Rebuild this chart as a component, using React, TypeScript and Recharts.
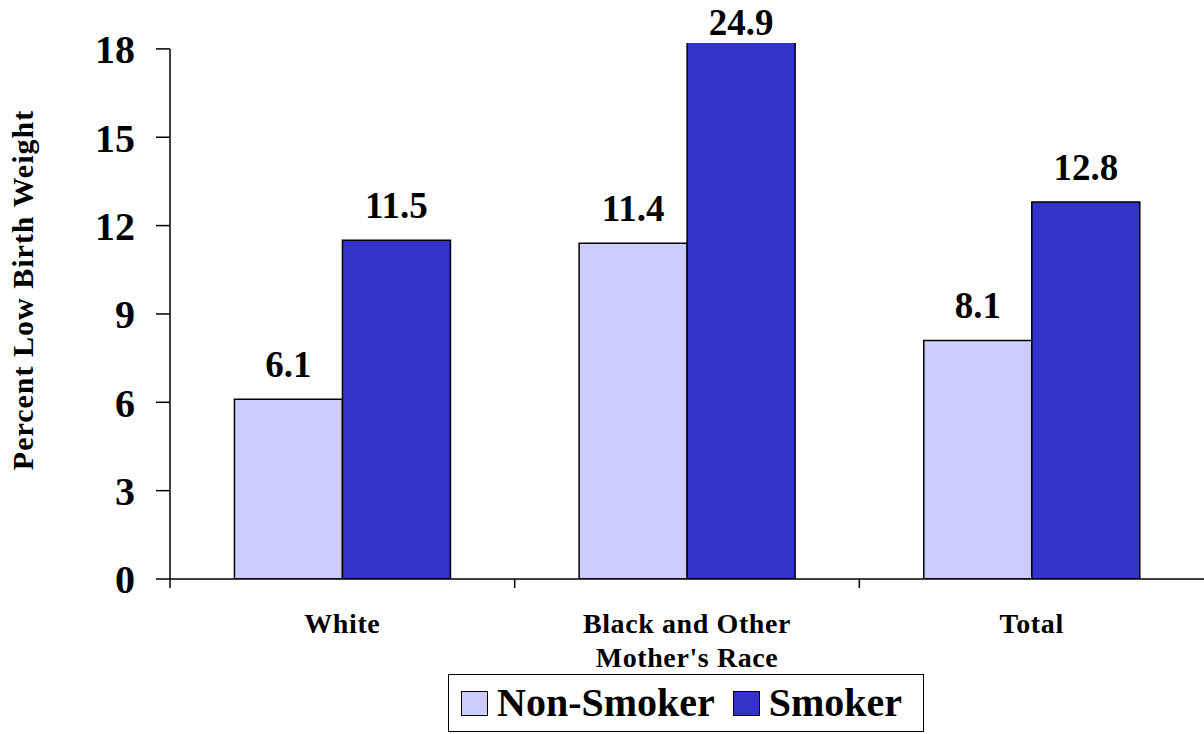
import React from "react";
import { BarChart, Bar, XAxis, YAxis, Legend, LabelList } from "recharts";

// values
const races = ["White", "Black and Other", "Total"];
const nonSmoker = [6.1, 11.4, 8.1];
const smoker = [11.5, 24.9, 12.8];
const yTicks = [0, 3, 6, 9, 12, 15, 18];

const data = races.map((race, i) => ({
  race,
  nonSmoker: nonSmoker[i],
  smoker: smoker[i],
}));

const W = 1204;
const H = 734;
const TOP = 43;
const Y_MAX = 18.2; // excel plot area runs a little past the last tick
const FONT = '"Liberation Serif", "Times New Roman", serif';

function ValueLabel(props: any) {
  const vb = props.viewBox ?? props;
  const { x, y, width } = vb;
  const clipped = y < TOP;
  const baseline = clipped ? TOP - 8 : y - 22;
  return (
    <text
      x={x + width / 2}
      y={baseline}
      textAnchor="middle"
      fontFamily={FONT}
      fontWeight="bold"
      fontSize={37}
      fill="#000"
    >
      {Number(props.value).toFixed(1)}
    </text>
  );
}

function PercentTick(props: any) {
  const { x, y, payload, height, index } = props;
  const axisX = x + 35;
  const pxPerUnit = (height ?? 536) / Y_MAX;
  const prev = index > 0 ? yTicks[index - 1] : payload.value;
  const seg = (payload.value - prev) * pxPerUnit;
  return (
    <g>
      <line x1={axisX - 14} y1={y} x2={axisX} y2={y} stroke="#000" strokeWidth={1.5} />
      {seg > 0 && <line x1={axisX} y1={y} x2={axisX} y2={y + seg} stroke="#000" strokeWidth={1.5} />}
      <text
        x={x}
        y={y}
        dy="0.36em"
        textAnchor="end"
        fontFamily={FONT}
        fontWeight="bold"
        fontSize={40}
        fill="#000"
      >
        {payload.value}
      </text>
    </g>
  );
}

function RaceTick(props: any) {
  const { x, y, payload } = props;
  const half = payload.offset ?? 172;
  return (
    <g>
      <line x1={x - half} y1={y} x2={x - half} y2={y + 9} stroke="#000" strokeWidth={1.5} />
      <text
        x={x}
        y={y + 54}
        textAnchor="middle"
        fontFamily={FONT}
        fontWeight="bold"
        fontSize={28}
        letterSpacing={0.6}
        fill="#000"
      >
        {payload.value}
      </text>
    </g>
  );
}

function YTitle() {
  return (
    <text
      transform="translate(33,290) rotate(-90)"
      textAnchor="middle"
      fontFamily={FONT}
      fontWeight="bold"
      fontSize={30}
      letterSpacing={1}
      fill="#000"
    >
      Percent Low Birth Weight
    </text>
  );
}

function XTitle() {
  return (
    <text
      x={687}
      y={667}
      textAnchor="middle"
      fontFamily={FONT}
      fontWeight="bold"
      fontSize={28}
      letterSpacing={0.6}
      fill="#000"
    >
      Mother's Race
    </text>
  );
}

function LegendBox({ payload }: { payload?: Array<{ value: string; color: string }> }) {
  if (!payload?.length) return null;
  return (
    <div
      style={{
        boxSizing: "border-box",
        width: 476,
        height: 58,
        border: "1.5px solid #000",
        display: "flex",
        alignItems: "center",
        paddingLeft: 12,
        fontFamily: FONT,
        fontWeight: "bold",
        fontSize: 40,
        color: "#000",
      }}
    >
      {payload.map((entry, i) => (
        <div key={i} style={{ display: "flex", alignItems: "center", marginRight: 18 }}>
          <span
            style={{
              boxSizing: "border-box",
              display: "inline-block",
              width: 27,
              height: 25,
              background: entry.color,
              border: "1.5px solid #000",
              marginRight: 9,
            }}
          />
          <span style={{ lineHeight: "40px" }}>{entry.value}</span>
        </div>
      ))}
    </div>
  );
}

export default function App() {
  return (
    <div style={{ width: W, height: H, background: "#fff" }}>
      <style>{"body{margin:0}"}</style>
      <BarChart
        width={W}
        height={H}
        data={data}
        margin={{ top: TOP, right: 0, bottom: 2, left: 0 }}
        barCategoryGap="18.7%"
        barGap={0}
      >
        <XAxis
          dataKey="race"
          height={95}
          tick={<RaceTick />}
          tickSize={0}
          tickMargin={0}
          tickLine={false}
          axisLine={{ stroke: "#000", strokeWidth: 1.5 }}
          interval={0}
          label={<XTitle />}
        />
        <YAxis
          width={170}
          domain={[0, Y_MAX]}
          ticks={yTicks}
          allowDataOverflow
          tickSize={14}
          tickMargin={21}
          tickLine={false}
          axisLine={false}
          tick={<PercentTick />}
          label={<YTitle />}
        />
        <Legend
          verticalAlign="bottom"
          content={<LegendBox />}
          wrapperStyle={{ left: 448, width: 476, bottom: 2 }}
        />
        <Bar
          dataKey="nonSmoker"
          name="Non-Smoker"
          fill="#CCCCFF"
          stroke="#000"
          strokeWidth={1.5}
          isAnimationActive={false}
        >
          <LabelList dataKey="nonSmoker" content={<ValueLabel />} />
        </Bar>
        <Bar
          dataKey="smoker"
          name="Smoker"
          fill="#3333CC"
          stroke="#000"
          strokeWidth={1.5}
          isAnimationActive={false}
        >
          <LabelList dataKey="smoker" content={<ValueLabel />} />
        </Bar>
      </BarChart>
    </div>
  );
}
